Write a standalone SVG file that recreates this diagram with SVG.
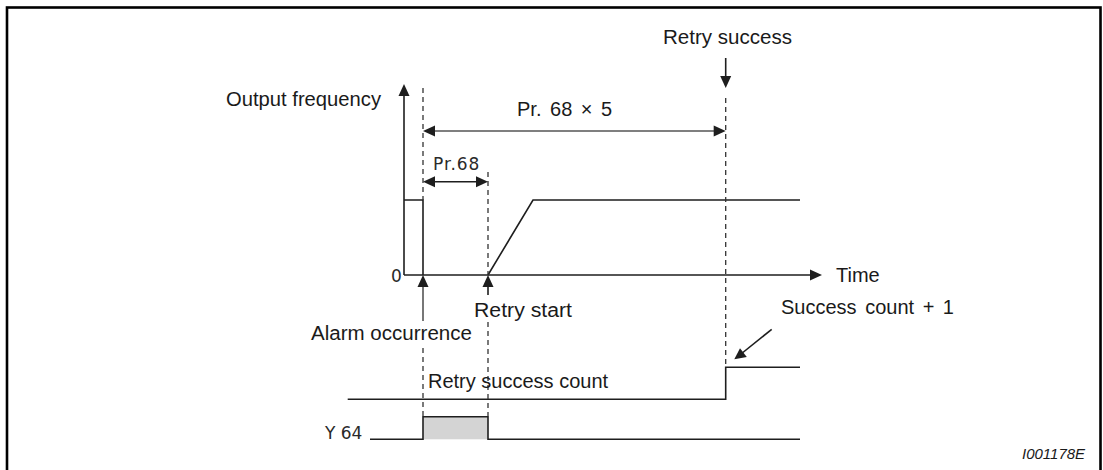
<svg xmlns="http://www.w3.org/2000/svg" width="1103" height="470" viewBox="0 0 1103 470">
<style>
.t{font-family:"Liberation Sans",Arial,sans-serif;font-size:20px;fill:#1a1a1a}
.g{font-family:"DejaVu Sans","Liberation Sans",sans-serif;font-size:17px;fill:#2a2a2a}
.ln{fill:none;stroke:#1e1e1e;stroke-width:1.6}
.gr{fill:none;stroke:#555;stroke-width:1.6}
.ds{fill:none;stroke:#333;stroke-width:1.3;stroke-dasharray:5 4}
.ah{fill:#1e1e1e}
</style>
<rect x="7" y="7.5" width="1093.5" height="470" fill="#fff" stroke="#000" stroke-width="2.6"/>
<g id="signals">
<rect x="423" y="416.7" width="65" height="22.6" fill="#d4d4d4"/>
<polyline class="ln" points="404,200 423,200 423,275"/>
<polyline class="ln" points="488,275 533,200 800,200"/>
<polyline class="ln" points="347.7,399.3 725.7,399.3 725.7,367.3 800,367.3"/>
<polyline class="ln" points="370,439.3 423,439.3 423,416.7 488,416.7 488,439.3 800,439.3"/>
</g>
<g id="axes">
<line class="ln" x1="404" y1="275" x2="404" y2="94"/>
<polygon class="ah" points="404,84 398.5,96 409.5,96"/>
<line class="ln" x1="404" y1="275" x2="812" y2="275"/>
<polygon class="ah" points="822,275 810,269.5 810,280.5"/>
</g>
<g id="guides">
<line class="ds" x1="423" y1="88" x2="423" y2="200"/>
<line class="ds" x1="423" y1="348" x2="423" y2="416"/>
<line class="ds" x1="488" y1="172" x2="488" y2="275"/>
<line class="ds" x1="488" y1="322" x2="488" y2="416"/>
<line class="ds" x1="725.7" y1="98" x2="725.7" y2="367"/>
</g>
<g id="connectors">
<line class="gr" x1="433" y1="131" x2="716" y2="131"/>
<polygon class="ah" points="423,131 435,125.5 435,136.5"/>
<polygon class="ah" points="725.7,131 713.7,125.5 713.7,136.5"/>
<line class="ln" x1="433" y1="181.7" x2="478" y2="181.7"/>
<polygon class="ah" points="423,181.7 435,176.2 435,187.2"/>
<polygon class="ah" points="488,181.7 476,176.2 476,187.2"/>
<line class="gr" x1="423" y1="321" x2="423" y2="285"/>
<polygon class="ah" points="423,275 417.5,287 428.5,287"/>
<line class="ln" x1="488" y1="295" x2="488" y2="285"/>
<polygon class="ah" points="488,275 482.5,287 493.5,287"/>
<line class="ln" x1="725.7" y1="58" x2="725.7" y2="78"/>
<polygon class="ah" points="725.7,88 720.2,76 731.2,76"/>
<line class="ln" x1="771.7" y1="329.3" x2="741" y2="354"/>
<polygon class="ah" points="734.3,359.3 740,348.3 746.8,356.9"/>
</g>
<g id="labels">
<text class="t" x="226" y="106" textLength="155" lengthAdjust="spacingAndGlyphs">Output frequency</text>
<text class="t" x="517" y="116" word-spacing="3">Pr. 68 × 5</text>
<text class="t" x="663" y="44" textLength="129" lengthAdjust="spacingAndGlyphs">Retry success</text>
<text class="t" x="836" y="282">Time</text>
<text class="t" x="781" y="314" word-spacing="3">Success count + 1</text>
<text class="t" x="428" y="388">Retry success count</text>
<text class="t" x="311" y="340" textLength="161" lengthAdjust="spacingAndGlyphs">Alarm occurrence</text>
<text class="t" x="474" y="317" textLength="98" lengthAdjust="spacingAndGlyphs">Retry start</text>
<text class="g" x="433" y="170" letter-spacing="1">Pr.68</text>
<text class="g" x="391" y="282">0</text>
<text class="g" x="325" y="439">Y 64</text>
<text x="1022" y="459" font-family="Liberation Sans,Arial,sans-serif" font-size="15" font-style="italic" fill="#1a1a1a">I001178E</text>
</g>
</svg>
